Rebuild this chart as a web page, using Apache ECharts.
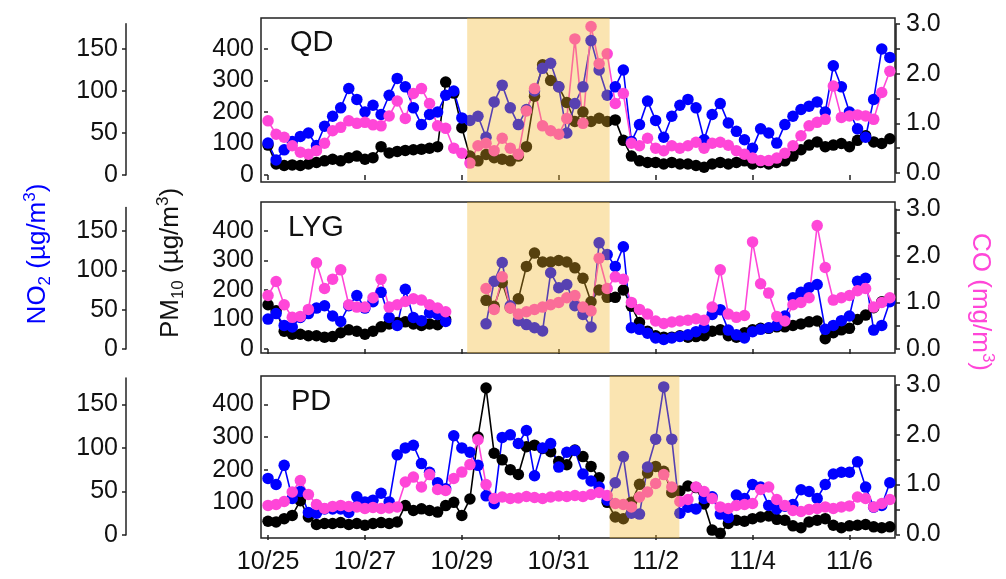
<!DOCTYPE html>
<html>
<head>
<meta charset="utf-8">
<script src="https://cdn.jsdelivr.net/npm/echarts@6/dist/echarts.min.js"></script>
<style>
  html,body{margin:0;padding:0;background:#fff;}
  #main{width:1006px;height:579px;}
</style>
</head>
<body>
<div id="main"></div>
<script>
// 3-panel air quality time series: PM10 (black), NO2 (blue), CO (pink), 4-hourly from 10/25 00:00
const STEP = 4 / 24;              // days between points
const DAY_TICKS = [0, 2, 4, 6, 8, 10, 12];
const TICK_LABELS = ['10/25', '10/27', '10/29', '10/31', '11/2', '11/4', '11/6'];
const STATIONS = ['QD', 'LYG', 'PD'];

const QD_PM10 = [95,35,30,32,30,35,40,45,50,45, 55,60,50,55,90,70,75,78,80,82, 85,90,295,260,150,60,45,65,55,50,
  45,60,90,250,350,300,280,230,170,200, 170,180,170,175,110,60,45,40,40,35, 40,35,35,30,25,35,40,35,40,45,
  35,40,35,40,45,60,80,95,105,90, 95,100,90,110,125,105,100,115];
const QD_NO2 = [38,18,30,40,46,50,35,58,70,80, 103,90,75,83,72,95,115,105,80,60, 72,75,95,100,68,65,70,45,87,107,
  80,60,78,100,127,133,105,50,85,105, 160,125,95,105,125,40,60,88,65,45, 70,83,90,80,42,72,85,62,52,42,
  32,55,50,38,60,70,78,82,87,75, 130,105,75,55,45,90,150,140];
const QD_CO = [1.05,0.78,0.72,0.55,0.42,0.38,0.45,0.6,0.85,0.92, 1.05,1.0,1.02,0.97,0.95,1.15,1.45,1.1,1.6,1.7,
  1.4,0.95,0.9,0.5,0.4,0.2,0.55,0.6,0.45,0.7, 0.5,0.38,1.25,1.7,0.95,0.85,0.78,1.1,2.7,1.0,
  2.95,2.2,2.4,1.4,1.6,0.6,0.55,0.7,0.5,0.45, 0.55,0.5,0.55,0.62,0.5,0.6,0.62,0.56,0.45,0.38,
  0.3,0.25,0.25,0.3,0.4,0.55,0.75,0.95,1.02,1.08, 1.75,1.12,1.15,1.17,1.15,1.08,1.62,2.05];

const LYG_PM10 = [150,130,60,50,50,45,45,40,42,55, 65,60,50,60,75,85,90,92,85,80, 85,82,100,null,null,null,null,165,145,225,
  140,170,280,325,295,295,300,295,275,240, 160,200,175,175,200,145,90,60,45,40, 40,45,40,42,45,60,65,45,40,55,
  65,70,70,75,75,80,85,92,95,35, 55,65,70,100,115,140,160,170];
const LYG_NO2 = [38,45,30,28,40,45,52,55,42,35, 55,68,52,60,72,40,30,76,40,36, 46,44,35,null,null,null,null,32,86,110,
  55,36,31,27,23,97,78,82,55,44, 28,135,120,105,130,27,25,20,14,12, 14,16,18,22,27,44,50,24,18,14,
  22,25,27,30,42,65,72,78,82,25, 30,36,42,86,90,24,30,60];
const LYG_CO = [1.15,1.45,0.95,0.68,0.7,0.85,1.85,1.3,1.5,1.7, 0.95,0.9,0.9,1.1,1.5,0.9,0.95,1.02,1.08,1.05,
  0.95,0.88,0.8,null,null,null,null,1.3,0.85,1.55, 0.88,0.75,0.8,0.85,0.9,0.95,1.0,1.1,1.15,0.9,
  0.82,1.95,1.3,1.55,1.5,1.0,0.85,0.75,0.6,0.55, 0.58,0.6,0.62,0.65,0.62,0.9,1.7,0.75,0.68,0.72,
  2.3,1.4,1.2,0.7,0.6,0.95,1.0,1.1,2.65,1.75, 1.05,1.1,1.15,1.25,1.3,0.9,1.0,1.1];

const PD_PM10 = [42,40,50,60,105,55,32,35,35,38, 32,35,30,35,38,35,40,90,75,80, 75,70,90,100,60,110,300,450,250,230,
  200,185,270,275,265,255,225,215,260,240, 210,175,100,55,50,100,155,190,210,195, 130,135,150,145,95,15,5,35,45,42,
  50,55,58,48,45,28,22,40,45,50, 30,22,28,30,32,25,22,25];
const PD_NO2 = [65,58,80,42,50,26,25,30,30,30, 26,44,38,40,48,38,92,100,103,82, 72,60,53,114,100,95,80,45,36,112,
  115,105,120,68,100,105,78,95,97,70, 62,55,40,60,90,25,24,78,110,170, 110,25,32,30,42,44,24,20,46,42,
  58,55,34,30,33,35,52,50,42,58, 70,72,72,84,55,32,34,60];
const PD_CO = [0.58,0.6,0.66,0.85,1.08,0.8,0.6,0.52,0.56,0.58, 0.56,0.55,0.52,0.54,0.52,0.53,0.55,1.05,1.15,0.95,
  1.2,0.9,0.88,1.12,1.25,1.4,1.9,1.0,0.72,0.75, 0.72,0.73,0.76,0.74,0.72,0.75,0.77,0.76,0.78,0.76,
  0.8,0.84,0.78,0.62,0.6,0.55,0.75,0.85,1.02,1.2, 0.95,0.66,0.7,0.95,0.86,0.72,0.55,0.52,0.58,0.6,
  0.62,0.9,0.95,0.7,0.58,0.48,0.46,0.5,0.52,0.55, 0.52,0.55,0.57,0.75,0.72,0.55,0.62,0.7];

// shaded episodes, in days from 10/25 00:00
const SHADE_QD = [4.11, 7.05];
const SHADE_LYG = [4.11, 7.05];
const SHADE_PD = [7.05, 8.49];

const NO2_TICKS = [0, 50, 100, 150];
const CO_TICKS = [0, 0.5, 1, 1.5, 2, 2.5, 3];
const CO_LABELS = [0, 1, 2, 3];

const DATA = [
  {pm: QD_PM10, no2: QD_NO2, co: QD_CO, shade: SHADE_QD},
  {pm: LYG_PM10, no2: LYG_NO2, co: LYG_CO, shade: SHADE_LYG},
  {pm: PD_PM10, no2: PD_NO2, co: PD_CO, shade: SHADE_PD},
];

// layout of each panel (pixels) and axis ranges that put the frame where the figure has it
const LAYOUT = [
  {top:18, h:164, pm:[-22.2,498.4], no2:[-8.3,186.9], co:[-0.181,3.121], no2Top:23.8, no2H:151.2, coTop:24, coH:149, lab:[290,43], pmTicks:[0,100,200,300,400]},
  {top:202, h:151, pm:[-13.6,498.3], no2:[-5.1,186.9], co:[-0.086,3.157], no2Top:207.4, no2H:141.6, coTop:209.3, coH:139.7, lab:[288,228], pmTicks:[0,100,200,300,400]},
  {top:376, h:162, pm:[-9.2,486.6], no2:[-3.4,182.5], co:[-0.074,3.18], no2Top:378.1, no2H:156.9, coTop:385, coH:149.3, lab:[291,402], pmTicks:[100,200,300,400]},
];
const XMIN = -0.145, XMAX = 12.94;
const FONT = '"Liberation Sans", Arial, sans-serif';
const COL = {pm:'#000000', no2:'#0000ff', co:'#ff46d8', axis:'#222222', text:'#111111'};
const AXLINE = {color: COL.axis, width: 1.5};
const LBL = {fontSize: 25, fontFamily: FONT, color: COL.text};

const pts = arr => arr.map((v, i) => [i * STEP, v == null ? '-' : v]);

const grid = [], xAxis = [], yAxis = [], series = [], graphic = [];

LAYOUT.forEach((L, p) => {
  grid.push({left: 261, width: 634, top: L.top, height: L.h, show: true, borderColor: COL.axis, borderWidth: 1.5, outerBoundsMode: 'none'});
  xAxis.push({type: 'value', gridIndex: p, min: XMIN, max: XMAX, axisLine: {show: false},
    axisTick: {show: true, customValues: DAY_TICKS, length: 5, lineStyle: AXLINE},
    axisLabel: {show: p === 2, customValues: DAY_TICKS, margin: 12, ...LBL,
      formatter: v => TICK_LABELS[DAY_TICKS.indexOf(v)] || ''},
    splitLine: {show: false}});
  // PM10 (visible), NO2 & CO (hidden, for plotting)
  yAxis.push({type: 'value', gridIndex: p, min: L.pm[0], max: L.pm[1], axisLine: {show: false},
    axisTick: {show: true, customValues: L.pmTicks, length: 4, lineStyle: AXLINE},
    axisLabel: {customValues: L.pmTicks, margin: 7, ...LBL}, splitLine: {show: false}});
  yAxis.push({type: 'value', gridIndex: p, min: L.no2[0], max: L.no2[1], show: false});
  yAxis.push({type: 'value', gridIndex: p, min: L.co[0], max: L.co[1], show: false});
});
// detached NO2 axes (left) and CO axes (right)
LAYOUT.forEach((L, p) => {
  grid.push({left: 126, width: 2, top: L.no2Top, height: L.no2H, outerBoundsMode: 'none'});
  xAxis.push({type: 'value', gridIndex: 3 + p, show: false});
  yAxis.push({type: 'value', gridIndex: 3 + p, position: 'left', min: 0, max: 180,
    axisLine: {show: true, lineStyle: AXLINE},
    axisTick: {show: true, customValues: NO2_TICKS, length: 4, lineStyle: AXLINE},
    axisLabel: {customValues: NO2_TICKS, margin: 8, ...LBL}, splitLine: {show: false}});
});
LAYOUT.forEach((L, p) => {
  grid.push({left: 896, width: 2, top: L.coTop, height: L.coH, outerBoundsMode: 'none'});
  xAxis.push({type: 'value', gridIndex: 6 + p, show: false});
  yAxis.push({type: 'value', gridIndex: 6 + p, position: 'right', min: 0, max: 3,
    axisLine: {show: true, lineStyle: AXLINE},
    axisTick: {show: true, customValues: CO_TICKS, length: 4, lineStyle: AXLINE},
    axisLabel: {customValues: CO_LABELS, margin: 8, ...LBL, formatter: v => v.toFixed(1)}, splitLine: {show: false}});
});

function line(data, color, xi, yi) {
  return {type: 'line', xAxisIndex: xi, yAxisIndex: yi, data: pts(data), symbol: 'circle', symbolSize: 11.5,
    showSymbol: true, itemStyle: {color}, lineStyle: {color, width: 1.6}, z: 2,
    emphasis: {disabled: true}, silent: true};
}

DATA.forEach((d, p) => {
  series.push(line(d.pm, COL.pm, p, 3 * p));
  series.push(line(d.no2, COL.no2, p, 3 * p + 1));
  series.push(line(d.co, COL.co, p, 3 * p + 2));
  series.push({type: 'line', xAxisIndex: p, yAxisIndex: 3 * p, data: [], z: 10, silent: true,
    markArea: {silent: true, z: 10, label: {show: false}, itemStyle: {color: 'rgba(240,180,40,0.36)', borderWidth: 0},
      data: [[{xAxis: d.shade[0]}, {xAxis: d.shade[1]}]]}});
  graphic.push({type: 'text', x: LAYOUT[p].lab[0], y: LAYOUT[p].lab[1], z: 20,
    style: {text: STATIONS[p], fontSize: 29, fontFamily: FONT, fill: COL.text, align: 'left', verticalAlign: 'middle'}});
});

function richTitle(text, color) {
  return {text, align: 'center', verticalAlign: 'middle',
    rich: {
      n: {fontSize: 26, fontFamily: FONT, fill: color, lineHeight: 32},
      s: {fontSize: 17, fontFamily: FONT, fill: color, verticalAlign: 'bottom'},
      p: {fontSize: 17, fontFamily: FONT, fill: color, verticalAlign: 'top'}
    }};
}
graphic.push({type: 'text', x: 38, y: 254, rotation: Math.PI / 2,
  style: richTitle('{n|NO}{s|2}{n| (µg/m}{p|3}{n|)}', COL.no2)});
graphic.push({type: 'text', x: 171, y: 263, rotation: Math.PI / 2,
  style: richTitle('{n|PM}{s|10}{n| (µg/m}{p|3}{n|)}', COL.text)});
graphic.push({type: 'text', x: 980, y: 302, rotation: -Math.PI / 2,
  style: richTitle('{n|CO (mg/m}{p|3}{n|)}', COL.co)});

const chart = echarts.init(document.getElementById('main'), null, {renderer: 'canvas'});
chart.setOption({backgroundColor: '#ffffff', animation: false, grid, xAxis, yAxis, series, graphic});
</script>
</body>
</html>
